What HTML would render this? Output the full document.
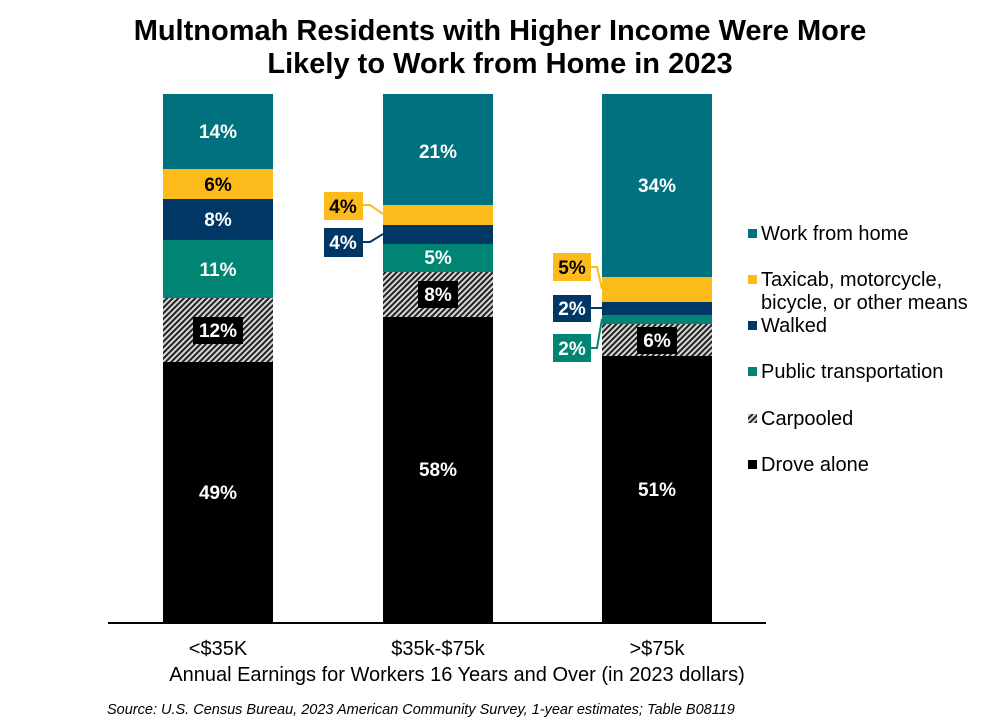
<!DOCTYPE html>
<html><head><meta charset="utf-8"><style>body{margin:0;background:#fff}svg{display:block}</style></head><body>
<svg width="1000" height="724" xmlns="http://www.w3.org/2000/svg" font-family="Liberation Sans, Arial, sans-serif">
<defs>
<pattern id="h" width="4" height="4" patternUnits="userSpaceOnUse" patternTransform="rotate(45)">
<rect width="4" height="4" fill="#d8d8d8"/><rect width="2" height="4" fill="#222"/>
</pattern>
</defs>
<text x="500" y="40" font-size="29" font-weight="bold" text-anchor="middle">Multnomah Residents with Higher Income Were More</text>
<text x="500" y="73" font-size="29" font-weight="bold" text-anchor="middle">Likely to Work from Home in 2023</text>
<!-- bar1 -->
<rect x="163" y="94" width="110" height="75" fill="#00727f"/>
<rect x="163" y="169" width="110" height="30" fill="#fdbb1b"/>
<rect x="163" y="199" width="110" height="41" fill="#013765"/>
<rect x="163" y="240" width="110" height="58" fill="#008575"/>
<rect x="163" y="298" width="110" height="64" fill="url(#h)"/>
<rect x="163" y="362" width="110" height="261" fill="#000"/>
<!-- bar2 -->
<rect x="383" y="94" width="110" height="111" fill="#00727f"/>
<rect x="383" y="205" width="110" height="20" fill="#fdbb1b"/>
<rect x="383" y="225" width="110" height="19" fill="#013765"/>
<rect x="383" y="244" width="110" height="28" fill="#008575"/>
<rect x="383" y="272" width="110" height="45" fill="url(#h)"/>
<rect x="383" y="317" width="110" height="306" fill="#000"/>
<!-- bar3 -->
<rect x="602" y="94" width="110" height="183" fill="#00727f"/>
<rect x="602" y="277" width="110" height="25" fill="#fdbb1b"/>
<rect x="602" y="302" width="110" height="13" fill="#013765"/>
<rect x="602" y="315" width="110" height="9" fill="#008575"/>
<rect x="602" y="324" width="110" height="32" fill="url(#h)"/>
<rect x="602" y="356" width="110" height="267" fill="#000"/>
<line x1="108" y1="623" x2="766" y2="623" stroke="#000" stroke-width="2"/>
<g font-size="19" font-weight="bold" fill="#fff" text-anchor="middle">
<text x="218" y="138">14%</text>
<text x="218" y="191" fill="#000">6%</text>
<text x="218" y="226">8%</text>
<text x="218" y="276">11%</text>
<rect x="193" y="317" width="50" height="27" fill="#000"/>
<text x="218" y="337">12%</text>
<text x="218" y="499">49%</text>
<text x="438" y="158">21%</text>
<text x="438" y="264">5%</text>
<rect x="418" y="281" width="40" height="27" fill="#000"/>
<text x="438" y="301">8%</text>
<text x="438" y="476">58%</text>
<text x="657" y="192">34%</text>
<rect x="637" y="327" width="40" height="27" fill="#000"/>
<text x="657" y="347">6%</text>
<text x="657" y="496">51%</text>
</g>
<!-- callouts -->
<polyline points="363,205 370,205 383,214" fill="none" stroke="#fdbb1b" stroke-width="2"/>
<polyline points="363,242 370,242 383,234" fill="none" stroke="#013765" stroke-width="2"/>
<rect x="324" y="192" width="39" height="28" fill="#fdbb1b"/>
<rect x="324" y="228" width="39" height="29" fill="#013765"/>
<polyline points="591,267 597,267 602,289" fill="none" stroke="#fdbb1b" stroke-width="2"/>
<line x1="591" y1="308" x2="602" y2="308" stroke="#013765" stroke-width="2"/>
<polyline points="591,348 597,348 602,319" fill="none" stroke="#008575" stroke-width="2"/>
<rect x="553" y="253" width="38" height="28" fill="#fdbb1b"/>
<rect x="553" y="295" width="38" height="27" fill="#013765"/>
<rect x="553" y="334" width="38" height="28" fill="#008575"/>
<g font-size="19" font-weight="bold" text-anchor="middle">
<text x="343" y="213">4%</text>
<text x="343" y="249" fill="#fff">4%</text>
<text x="572" y="274">5%</text>
<text x="572" y="315" fill="#fff">2%</text>
<text x="572" y="355" fill="#fff">2%</text>
</g>
<!-- legend -->
<g font-size="20">
<rect x="748" y="229" width="9" height="9" fill="#00727f"/><text x="761" y="240">Work from home</text>
<rect x="748" y="275" width="9" height="9" fill="#fdbb1b"/><text x="761" y="286">Taxicab, motorcycle,</text>
<text x="761" y="309">bicycle, or other means</text>
<rect x="748" y="321" width="9" height="9" fill="#013765"/><text x="761" y="332">Walked</text>
<rect x="748" y="367" width="9" height="9" fill="#008575"/><text x="761" y="378">Public transportation</text>
<rect x="748" y="414" width="9" height="9" fill="url(#h)"/><text x="761" y="425">Carpooled</text>
<rect x="748" y="460" width="9" height="9" fill="#000"/><text x="761" y="471">Drove alone</text>
</g>
<g font-size="20" text-anchor="middle">
<text x="218" y="655">&lt;$35K</text>
<text x="438" y="655">$35k-$75k</text>
<text x="657" y="655">&gt;$75k</text>
<text x="457" y="681">Annual Earnings for Workers 16 Years and Over (in 2023 dollars)</text>
</g>
<text x="107" y="714" font-size="14.5" font-style="italic">Source: U.S. Census Bureau, 2023 American Community Survey, 1-year estimates; Table B08119</text>
</svg>
</body></html>
